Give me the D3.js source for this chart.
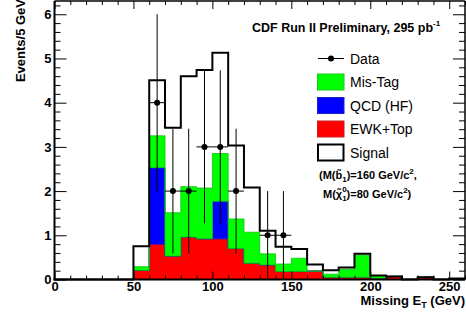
<!DOCTYPE html>
<html>
<head>
<meta charset="utf-8">
<script src="https://cdn.jsdelivr.net/npm/d3@7"></script>
<style>
  html, body { margin: 0; padding: 0; background: #fff; }
  svg { display: block; font-family: "Liberation Sans", Arial, Helvetica, sans-serif; }
  .tick text { font-weight: bold; font-size: 13px; fill: #000; }
</style>
</head>
<body>
<div id="chart"></div>
<script>
// 直方图各 bin 的下边界 (GeV)，宽 10 GeV
const binLow = [50, 60, 70, 80, 90, 100, 110, 120, 130, 140, 150, 160, 170, 180, 190, 200, 210, 220, 230, 240, 250];
const binWidth = 10;

// 本底分量 (events / bin)
const ewkTop = [0.21, 0.80, 0.53, 0.96, 0.92, 0.92, 0.70, 0.37, 0.33, 0.18, 0.18, 0.19, 0.05, 0.05, 0.05, 0.03, 0.07, 0, 0.05, 0, 0.02];
const qcdHF  = [0, 1.73, 0, 0, 0, 0.85, 0, 0, 0, 0, 0, 0, 0, 0, 0, 0, 0, 0, 0, 0, 0];
const misTag = [0.08, 0.72, 0.98, 1.14, 1.15, 1.08, 0.67, 0.70, 0.25, 0.17, 0.30, 0, 0.07, 0.18, 0.50, 0.05, 0, 0, 0, 0, 0];

// 信号轮廓
const signal = [0.75, 4.51, 3.43, 4.60, 4.74, 5.13, 3.03, 2.08, 1.10, 0.74, 0.69, 0.34, 0.21, 0.27, 0.58, 0.09, 0.07, 0, 0.05, 0, 0.02];

// 数据点
const dataX   = [65, 75, 85, 95, 105, 115, 135, 145];
const dataY   = [4, 2, 2, 3, 3, 2, 1, 1];
const dataErr = [2.0, 1.41, 1.41, 1.73, 1.73, 1.41, 1.0, 1.0];

const xTicks = [0, 50, 100, 150, 200, 250];
const yTicks = [0, 1, 2, 3, 4, 5, 6];

const legendItems = [
  { label: "Data", type: "data" },
  { label: "Mis-Tag", type: "box", fill: "#00ff00", stroke: "#1fc81f" },
  { label: "QCD (HF)", type: "box", fill: "#0000ff", stroke: "#2020c8" },
  { label: "EWK+Top", type: "box", fill: "#ff0000", stroke: "#c82020" },
  { label: "Signal", type: "signal" }
];

const W = 466, H = 313;
const plot = { left: 54.5, right: 465, top: 1, bottom: 279.5 };

const svg = d3.select("#chart").append("svg")
  .attr("width", W)
  .attr("height", H);

const x = d3.scaleLinear().domain([0, 260]).range([plot.left, plot.right]);
const y = d3.scaleLinear().domain([0, 6.3]).range([plot.bottom, plot.top]);

// 堆叠：EWK 在下，QCD 中间，Mis-Tag 在上
const rows = binLow.map((b, i) => ({ x: b, ewk: ewkTop[i], qcd: qcdHF[i], mis: misTag[i] }));
const last = rows[rows.length - 1];
rows.push({ ...last, x: last.x + binWidth });

const stack = d3.stack().keys(["ewk", "qcd", "mis"]);
const layers = stack(rows);
const layerStyle = {
  ewk: { fill: "#ff0000", stroke: "#d01010" },
  qcd: { fill: "#0000ff", stroke: "#1010d0" },
  mis: { fill: "#00ff00", stroke: "#10c010" }
};

const area = d3.area()
  .curve(d3.curveStepAfter)
  .x(d => x(d.data.x))
  .y0(d => y(d[0]))
  .y1(d => y(d[1]));

svg.append("g").selectAll("path")
  .data(layers)
  .join("path")
  .attr("d", area)
  .attr("fill", d => layerStyle[d.key].fill)
  .attr("stroke", d => layerStyle[d.key].stroke)
  .attr("stroke-width", 0.8);

// 信号轮廓
const sigPts = [{ x: 0, v: 0 }].concat(binLow.map((b, i) => ({ x: b, v: signal[i] })));
sigPts.push({ x: 260, v: signal[signal.length - 1] });

svg.append("path")
  .datum(sigPts)
  .attr("d", d3.line().curve(d3.curveStepAfter).x(d => x(d.x)).y(d => y(d.v)))
  .attr("fill", "none")
  .attr("stroke", "#000")
  .attr("stroke-width", 2);

// 数据点与误差棒
const pts = dataX.map((v, i) => ({ x: v, y: dataY[i], e: dataErr[i] }));
const dg = svg.append("g").attr("stroke", "#000").attr("stroke-width", 1);
dg.selectAll(".ev").data(pts).join("line")
  .attr("x1", d => x(d.x)).attr("x2", d => x(d.x))
  .attr("y1", d => y(d.y - d.e)).attr("y2", d => y(d.y + d.e));
dg.selectAll(".eh").data(pts).join("line")
  .attr("x1", d => x(d.x - binWidth / 2)).attr("x2", d => x(d.x + binWidth / 2))
  .attr("y1", d => y(d.y)).attr("y2", d => y(d.y));
svg.append("g").selectAll("circle").data(pts).join("circle")
  .attr("cx", d => x(d.x)).attr("cy", d => y(d.y))
  .attr("r", 3).attr("fill", "#000");

// 坐标轴（ROOT 风格：刻度朝内，四边都有）
const xMinor = d3.range(0, 261, 10).filter(v => v % 50 !== 0);
const yMinor = d3.range(0, 63, 2).map(v => v / 10).filter(v => Math.abs(v - Math.round(v)) > 1e-6);

function styleAxis(g) {
  g.select(".domain").remove();
  g.selectAll(".tick line").attr("stroke", "#000").attr("stroke-width", 1);
}

svg.append("g")
  .attr("transform", `translate(0,${plot.bottom})`)
  .call(d3.axisBottom(x).tickValues(xTicks).tickSize(-8).tickPadding(2).tickFormat(d3.format("d")))
  .call(styleAxis);
svg.append("g")
  .attr("transform", `translate(0,${plot.bottom})`)
  .call(d3.axisBottom(x).tickValues(xMinor).tickSize(-4).tickFormat(""))
  .call(styleAxis);
svg.append("g")
  .attr("transform", `translate(0,${plot.top})`)
  .call(d3.axisTop(x).tickValues(xTicks).tickSize(-8).tickFormat(""))
  .call(styleAxis);
svg.append("g")
  .attr("transform", `translate(0,${plot.top})`)
  .call(d3.axisTop(x).tickValues(xMinor).tickSize(-4).tickFormat(""))
  .call(styleAxis);

svg.append("g")
  .attr("transform", `translate(${plot.left},0)`)
  .call(d3.axisLeft(y).tickValues(yTicks).tickSize(-12).tickPadding(3).tickFormat(d3.format("d")))
  .call(styleAxis);
svg.append("g")
  .attr("transform", `translate(${plot.left},0)`)
  .call(d3.axisLeft(y).tickValues(yMinor).tickSize(-6).tickFormat(""))
  .call(styleAxis);
svg.append("g")
  .attr("transform", `translate(${plot.right},0)`)
  .call(d3.axisRight(y).tickValues(yTicks).tickSize(-12).tickFormat(""))
  .call(styleAxis);
svg.append("g")
  .attr("transform", `translate(${plot.right},0)`)
  .call(d3.axisRight(y).tickValues(yMinor).tickSize(-6).tickFormat(""))
  .call(styleAxis);

// 边框
svg.append("line").attr("x1", plot.left).attr("x2", plot.right).attr("y1", plot.top).attr("y2", plot.top)
  .attr("stroke", "#000").attr("stroke-width", 1.5);
svg.append("line").attr("x1", plot.right).attr("x2", plot.right).attr("y1", plot.top).attr("y2", plot.bottom)
  .attr("stroke", "#000").attr("stroke-width", 1.5);
svg.append("line").attr("x1", plot.left).attr("x2", plot.left).attr("y1", plot.top).attr("y2", plot.bottom + 1)
  .attr("stroke", "#000").attr("stroke-width", 2);
svg.append("line").attr("x1", plot.left - 1).attr("x2", plot.right).attr("y1", plot.bottom).attr("y2", plot.bottom)
  .attr("stroke", "#000").attr("stroke-width", 2);

// 轴标题
svg.append("text")
  .attr("transform", "translate(25,-1) rotate(-90)")
  .attr("text-anchor", "end")
  .attr("font-weight", "bold")
  .attr("font-size", 13)
  .text("Events/5 GeV");

const xt = svg.append("text")
  .attr("x", 465).attr("y", 305)
  .attr("text-anchor", "end")
  .attr("font-weight", "bold")
  .attr("font-size", 13);
xt.append("tspan").text("Missing E");
xt.append("tspan").attr("dy", 3).attr("font-size", 9).text("T");
xt.append("tspan").attr("dy", -3).text(" (GeV)");

// 标题
const title = svg.append("text")
  .attr("x", 252).attr("y", 32)
  .attr("font-weight", "bold")
  .attr("font-size", 12.5);
title.append("tspan").text("CDF Run II Preliminary, 295 pb");
title.append("tspan").attr("dy", -6).attr("font-size", 8).text("-1");

// 图例
const lg = svg.append("g");
const rowY = i => 58.5 + i * 23.5;
legendItems.forEach((it, i) => {
  const cy = rowY(i);
  if (it.type === "data") {
    lg.append("line").attr("x1", 318).attr("x2", 344).attr("y1", cy).attr("y2", cy)
      .attr("stroke", "#000").attr("stroke-width", 1);
    lg.append("circle").attr("cx", 331).attr("cy", cy).attr("r", 3).attr("fill", "#000");
  } else if (it.type === "box") {
    lg.append("rect").attr("x", 317.5).attr("y", cy - 8).attr("width", 26.5).attr("height", 16)
      .attr("fill", it.fill).attr("stroke", it.stroke).attr("stroke-width", 1);
  } else {
    lg.append("rect").attr("x", 318).attr("y", cy - 8).attr("width", 25.5).attr("height", 16)
      .attr("fill", "#fff").attr("stroke", "#000").attr("stroke-width", 2);
  }
  lg.append("text").attr("x", 350).attr("y", cy + 5)
    .attr("font-size", 14).text(it.label);
});

// 信号质量注释
const a1 = svg.append("text").attr("x", 319).attr("y", 179)
  .attr("font-weight", "bold").attr("font-size", 11);
a1.append("tspan").text("(M(b\u0303");
a1.append("tspan").attr("dy", 3).attr("font-size", 8).text("1");
a1.append("tspan").attr("dy", -3).text(")=160 GeV/c");
a1.append("tspan").attr("dy", -5).attr("font-size", 8).text("2");
a1.append("tspan").attr("dy", 5).text(",");

const a2 = svg.append("text").attr("x", 323).attr("y", 198)
  .attr("font-weight", "bold").attr("font-size", 11);
a2.append("tspan").text("M(\u03c7\u0303");
a2.append("tspan").attr("dy", 3).attr("font-size", 8).text("1");
a2.append("tspan").attr("dx", -4.5).attr("dy", -9).attr("font-size", 8).text("0");
a2.append("tspan").attr("dy", 6).text(")=80 GeV/c");
a2.append("tspan").attr("dy", -5).attr("font-size", 8).text("2");
a2.append("tspan").attr("dy", 5).text(")");
</script>
</body>
</html>
